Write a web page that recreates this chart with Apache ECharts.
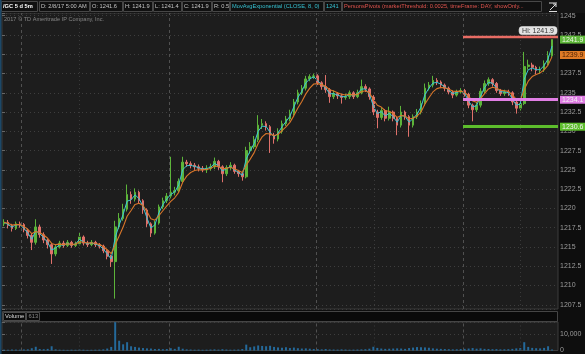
<!DOCTYPE html>
<html><head><meta charset="utf-8">
<script src="https://cdn.jsdelivr.net/npm/echarts@6/dist/echarts.min.js"></script>
<style>html,body{margin:0;padding:0;background:#0e0e0e;overflow:hidden}#c{width:585px;height:354px}</style>
</head><body><div id="c"></div>
<script>
// ---- data (one candle ≈ several 5-minute bars) ----
const opens = [
1218.0,1218.2,1217.8,1217.4,1218.0,1217.9,1217.2,1216.5,1215.6,1217.6,
1216.6,1215.9,1215.3,1214.1,1215.0,1215.5,1215.2,1215.6,1215.2,1215.4,
1216.3,1215.5,1215.3,1215.6,1215.3,1215.1,1214.5,1213.8,1213.1,1217.6,
1218.7,1219.9,1221.8,1221.2,1222.1,1221.0,1219.8,1218.0,1216.8,1218.1,
1220.2,1221.0,1221.6,1222.1,1222.3,1223.5,1226.0,1225.8,1225.6,1225.4,
1225.2,1225.0,1225.2,1225.4,1226.1,1225.4,1224.5,1225.3,1225.6,1224.8,
1224.5,1224.1,1227.5,1228.0,1228.9,1230.8,1231.0,1230.6,1229.5,1229.0,
1230.0,1231.0,1231.6,1232.3,1233.8,1235.0,1235.6,1236.8,1237.1,1237.2,
1236.3,1235.8,1235.4,1234.5,1234.9,1234.6,1234.4,1234.5,1235.0,1234.5,
1235.0,1235.8,1235.5,1234.5,1232.5,1231.8,1232.7,1231.7,1232.5,1231.7,
1230.8,1232.5,1231.9,1230.8,1231.9,1232.5,1233.6,1235.6,1236.0,1236.6,
1236.4,1236.0,1235.6,1235.1,1234.7,1235.1,1235.3,1234.8,1233.4,1232.8,
1233.4,1235.2,1236.2,1236.7,1236.2,1235.3,1234.9,1235.1,1235.0,1233.8,
1233.0,1233.6,1238.4,1238.6,1238.3,1237.9,1238.0,1238.8,1239.8];
const closes = [
1218.2,1217.8,1217.4,1218.0,1217.9,1217.2,1216.5,1215.6,1217.6,1216.6,
1215.9,1215.3,1214.1,1215.0,1215.5,1215.2,1215.6,1215.2,1215.4,1216.3,
1215.5,1215.3,1215.6,1215.3,1215.1,1214.5,1213.8,1213.1,1217.6,1218.7,
1219.9,1221.8,1221.2,1222.1,1221.0,1219.8,1218.0,1216.8,1218.1,1220.2,
1221.0,1221.6,1222.1,1222.3,1223.5,1226.0,1225.8,1225.6,1225.4,1225.2,
1225.0,1225.2,1225.4,1226.1,1225.4,1224.5,1225.3,1225.6,1224.8,1224.5,
1224.1,1227.5,1228.0,1228.9,1230.8,1231.0,1230.6,1229.5,1229.0,1230.0,
1231.0,1231.6,1232.3,1233.8,1235.0,1235.6,1236.8,1237.1,1237.2,1236.3,
1235.8,1235.4,1234.5,1234.9,1234.6,1234.4,1234.5,1235.0,1234.5,1235.0,
1235.8,1235.5,1234.5,1232.5,1231.8,1232.7,1231.7,1232.5,1231.7,1230.8,
1232.5,1231.9,1230.8,1231.9,1232.5,1233.6,1235.6,1236.0,1236.6,1236.4,
1236.0,1235.6,1235.1,1234.7,1235.1,1235.3,1234.8,1233.4,1232.8,1233.4,
1235.2,1236.2,1236.7,1236.2,1235.3,1234.9,1235.1,1235.0,1233.8,1233.0,
1233.6,1238.4,1238.6,1238.3,1237.9,1238.0,1238.8,1239.8,1241.9];
const highs = [
1218.6,1218.5,1218.0,1218.3,1218.3,1218.1,1217.4,1216.8,1218.6,1217.9,
1216.9,1216.1,1215.5,1215.3,1215.8,1215.8,1215.9,1215.8,1215.7,1216.9,
1216.5,1215.8,1215.9,1215.8,1215.5,1215.3,1214.7,1214.0,1218.4,1219.4,
1220.6,1223.1,1222.2,1222.6,1222.3,1221.2,1220.0,1218.2,1218.4,1220.5,
1221.4,1222.0,1226.7,1222.8,1223.9,1226.7,1226.3,1226.1,1225.9,1225.7,
1225.5,1225.6,1225.8,1226.6,1226.3,1225.6,1225.6,1226.0,1225.8,1225.0,
1224.7,1228.0,1228.6,1229.4,1232.1,1231.6,1231.3,1230.8,1229.8,1230.4,
1231.4,1232.0,1232.8,1234.2,1235.4,1236.0,1237.2,1237.4,1237.5,1237.4,
1236.5,1237.3,1235.6,1235.3,1235.1,1234.9,1234.9,1235.3,1235.2,1235.4,
1236.7,1236.1,1235.7,1234.7,1232.8,1233.1,1232.9,1233.2,1232.7,1231.9,
1233.3,1232.7,1232.1,1232.2,1232.9,1234.0,1236.2,1236.4,1237.2,1236.9,
1236.6,1236.2,1235.8,1235.3,1235.4,1235.6,1235.5,1235.0,1233.6,1233.8,
1235.6,1236.6,1237.0,1236.9,1236.4,1235.5,1235.4,1235.4,1235.2,1234.0,
1234.0,1240.3,1239.3,1238.9,1238.5,1238.4,1239.2,1240.4,1241.9];
const lows = [
1217.7,1217.4,1217.0,1217.2,1217.5,1216.9,1216.1,1214.6,1215.3,1216.2,
1215.5,1214.8,1212.8,1213.8,1214.8,1214.9,1215.0,1214.9,1215.0,1215.2,
1215.2,1215.0,1215.1,1215.0,1214.8,1214.2,1213.4,1212.4,1208.3,1217.3,
1218.4,1219.6,1220.6,1220.9,1220.6,1219.3,1217.6,1216.3,1216.6,1217.9,
1219.9,1220.7,1221.3,1221.7,1222.0,1223.3,1225.4,1225.2,1225.0,1224.8,
1224.7,1224.6,1224.9,1225.1,1225.0,1223.4,1224.2,1225.0,1224.5,1224.1,
1223.6,1223.9,1227.1,1227.7,1228.6,1230.3,1230.1,1227.2,1228.4,1228.7,
1229.7,1230.7,1231.3,1232.0,1233.5,1234.7,1235.3,1236.5,1236.8,1236.0,
1235.4,1235.0,1233.7,1234.2,1234.2,1233.6,1234.1,1234.2,1234.2,1234.3,
1234.8,1235.1,1234.1,1232.1,1230.4,1231.5,1231.3,1231.4,1231.3,1229.5,
1230.5,1231.5,1229.3,1230.5,1231.6,1232.2,1233.3,1235.3,1235.7,1236.0,
1235.6,1235.2,1234.8,1234.3,1234.5,1234.9,1234.5,1233.0,1231.3,1232.5,
1233.1,1234.9,1235.9,1235.8,1235.0,1234.6,1234.6,1234.6,1233.4,1232.3,
1232.7,1233.4,1238.0,1237.8,1237.4,1237.5,1237.7,1238.6,1239.6];
const volumes = [
500,450,600,550,500,650,700,1400,2300,900,
800,1000,2600,700,500,450,400,500,450,600,
500,400,450,500,550,700,1200,2200,17400,6000,
3800,5100,2600,2200,1800,1500,1300,1200,900,1000,
800,900,1400,1000,2300,1100,700,600,500,550,
450,500,600,700,550,800,600,500,550,600,
900,3600,2000,2500,3100,2800,2600,2900,2200,1900,
1700,2000,1500,1800,1400,1200,1300,1100,900,800,
700,900,650,600,550,700,600,500,550,600,
700,800,1100,2300,1600,1200,1000,1100,1200,1300,
1200,1000,1500,1800,2100,2000,1900,1700,1300,1100,
1000,900,800,700,750,900,1000,1200,1500,1100,
1300,1000,900,800,850,700,750,800,1000,1300,
1500,5100,2200,1600,1400,1300,1600,2600,613];
const slotCount = 140;                 // candles + one empty slot at the right edge
const categories = [];
for (let i = 0; i < slotCount; i++) categories.push(i < closes.length ? 'bar ' + (i + 1) : '');
const priceTicks = [1207.5,1210,1212.5,1215,1217.5,1220,1222.5,1225,1227.5,1230,1232.5,1235,1237.5,1240,1242.5,1245];
const volumeTicks = [0, 10000];
const pivotLevels = [1242.3, 1234.1, 1230.6];   // red R, pink pivot, green S
const pivotStart = 116.08;                       // session start (slot units)
const dayBreaks = [4.78, 42.05, 79.07, 116.08];
const hourBreaks = [19.39, 93.67, 130.43];
const lastPrice = 1241.9;
const slowEmaLast = 1239.9;
const fastPeriod = 2, slowPeriod = 5;

function ema(src, period) {
  const a = 2 / (period + 1); const out = []; let e = src[0];
  src.forEach(v => { e = e + a * (v - e); out.push(+e.toFixed(2)); });
  return out;
}
const emaFast = ema(closes, fastPeriod);
const emaSlow = ema(closes, slowPeriod);
const candleData = categories.map((_, i) => i < closes.length ? [opens[i], closes[i], lows[i], highs[i]] : '-');

const FONT = '"Liberation Sans", Arial, sans-serif';
const headerItems = [
  {t:'/GC 5 d 5m', x:1, w:36, c:'#ffffff', b:true},
  {t:'D: 2/8/17 5:00 AM', x:39, w:50},
  {t:'O: 1241.6', x:90, w:32},
  {t:'H: 1241.9', x:123, w:29},
  {t:'L: 1241.4', x:153, w:28},
  {t:'C: 1241.9', x:182, w:29},
  {t:'R: 0.5', x:212, w:17},
  {t:'MovAvgExponential (CLOSE, 8, 0)', x:230, w:93, c:'#37c2d2'},
  {t:'1241', x:324, w:17, c:'#37c2d2'},
  {t:'PersonsPivots (marketThreshold: 0.0025, timeFrame: DAY, showOnly...', x:342, w:199, c:'#e0544e'}
];
const graphics = [
  {type:'rect', shape:{x:0,y:0,width:585,height:13}, style:{fill:'#151515'}, z:0},
  {type:'rect', shape:{x:0,y:0,width:1.5,height:354}, style:{fill:'#1c4868'}, z:10},
  {type:'rect', shape:{x:2.5,y:311.5,width:555,height:10}, style:{fill:'#0a0a0a', stroke:'#454545', lineWidth:1}, z:5},
  {type:'rect', shape:{x:3.5,y:312.5,width:22,height:8}, style:{fill:'#0a0a0a', stroke:'#4a4a4a', lineWidth:1}, z:6},
  {type:'text', x:5, y:316.8, style:{text:'Volume', fill:'#dddddd', font:'5.8px ' + FONT, verticalAlign:'middle'}, z:7},
  {type:'rect', shape:{x:26.5,y:312.5,width:13,height:8}, style:{fill:'#0a0a0a', stroke:'#4a4a4a', lineWidth:1}, z:6},
  {type:'text', x:28.5, y:316.8, style:{text:'613', fill:'#8a8a8a', font:'5.8px ' + FONT, verticalAlign:'middle'}, z:7},
  {type:'text', x:4, y:19.5, style:{text:'2017 © TD Ameritrade IP Company, Inc.', fill:'#858585', font:'5.6px ' + FONT, verticalAlign:'middle'}, z:7},
  {type:'polyline', shape:{points:[[549,3],[557,3]]}, style:{stroke:'#dddddd', lineWidth:1}, z:7},
  {type:'polyline', shape:{points:[[550,10],[556,4]]}, style:{stroke:'#dddddd', lineWidth:1}, z:7},
  {type:'polyline', shape:{points:[[553,4],[556,4],[556,7]]}, style:{stroke:'#dddddd', lineWidth:1, fill:null}, z:7},
  {type:'polyline', shape:{points:[[549,11.5],[557,11.5]]}, style:{stroke:'#dddddd', lineWidth:1}, z:7}
];
headerItems.forEach(h => {
  graphics.push({type:'rect', shape:{x:h.x + 0.5, y:1.5, width:h.w, height:10}, style:{fill:'#101010', stroke:'#474747', lineWidth:1}, z:5});
  graphics.push({type:'text', x:h.x + 2, y:6.8, style:{text:h.t, fill:h.c || '#c2c2c2', font:(h.b ? 'bold ' : '') + '5.7px ' + FONT, verticalAlign:'middle'}, z:6});
});

function tagLabel(bg, fg, value) {
  return {show:true, position:'end', distance:2, backgroundColor:bg, color:fg, fontSize:7, fontFamily:FONT,
          padding:[1,2,0,2], formatter: value.toFixed(1)};
}
const vLine = (v, day) => ({xAxis:v, lineStyle:{color: day ? '#505050' : '#3a3a3a', type: day ? [3,3] : [1,3], width:1}});
const pivotColors = ['#e86c64', '#e07ee4', '#5dbd2c'];
const pivotLines = pivotLevels.map((v, k) => [
  {coord:[pivotStart, v], lineStyle:{color:pivotColors[k], width: k === 0 ? 2.3 : 3, type:'solid'},
   label: k === 0 ? {show:false} : tagLabel(pivotColors[k], '#f4f4f4', v)},
  {coord:[slotCount, v]}
]);
const tagLines = [
  [{coord:[slotCount - 1, lastPrice], lineStyle:{color:'rgba(0,0,0,0)', width:0}, label:tagLabel('#5fb83a', '#eef8e6', lastPrice)}, {coord:[slotCount, lastPrice]}],
  [{coord:[slotCount - 1, slowEmaLast], lineStyle:{color:'rgba(0,0,0,0)', width:0}, label:tagLabel('#e07b26', '#4a1e00', slowEmaLast)}, {coord:[slotCount, slowEmaLast]}]
];

const chart = echarts.init(document.getElementById('c'), null, {renderer:'canvas'});
chart.setOption({
  animation:false,
  backgroundColor:'#0e0e0e',
  textStyle:{fontFamily:FONT},
  graphic:{elements:graphics},
  grid:[
    {left:2, right:27, top:13, height:296, show:true, backgroundColor:'#1d1d1d', borderColor:'#3d3d3d', borderWidth:1},
    {left:2, right:27, top:322, height:32, show:true, backgroundColor:'#1d1d1d', borderColor:'#3d3d3d', borderWidth:1}
  ],
  xAxis:[
    {type:'category', gridIndex:0, data:categories, show:false},
    {type:'value', gridIndex:0, min:0, max:slotCount, show:false},
    {type:'category', gridIndex:1, data:categories, show:false},
    {type:'value', gridIndex:1, min:0, max:slotCount, show:false}
  ],
  yAxis:[
    {type:'value', gridIndex:0, position:'right', min:1206.955, max:1245.35, minInterval:2.5, maxInterval:2.5, splitNumber:15,
     axisLine:{show:false}, axisTick:{show:true, length:3, lineStyle:{color:'#666'}},
     axisLabel:{color:'#9c9c9c', fontSize:7, margin:2, hideOverlap:false,
       formatter: v => priceTicks.some(t => Math.abs(t - v) < 1e-6) ? String(v) : ''},
     splitLine:{show:true, lineStyle:{color:'#3e3e3e', type:[1,3], width:1}}},
    {type:'value', gridIndex:1, position:'right', min:0, max:17500, minInterval:10000, maxInterval:10000,
     axisLine:{show:false}, axisTick:{show:true, length:3, lineStyle:{color:'#666'}},
     axisLabel:{color:'#9c9c9c', fontSize:7, margin:2,
       formatter: v => volumeTicks.includes(v) ? v.toLocaleString('en-US') : ''},
     splitLine:{show:true, lineStyle:{color:'#3e3e3e', type:[1,3], width:1}}}
  ],
  series:[
    {type:'line', xAxisIndex:1, yAxisIndex:0, data:[[0,1230]], symbol:'none', lineStyle:{opacity:0}, silent:true,
     markLine:{silent:true, symbol:['none','none'], animation:false, label:{show:false},
       data:[...dayBreaks.map(v => vLine(v, true)), ...hourBreaks.map(v => vLine(v, false))]}},
    {type:'line', xAxisIndex:3, yAxisIndex:1, data:[[0,0]], symbol:'none', lineStyle:{opacity:0}, silent:true,
     markLine:{silent:true, symbol:['none','none'], animation:false, label:{show:false},
       data:[...dayBreaks.map(v => vLine(v, true)), ...hourBreaks.map(v => vLine(v, false))]}},
    {type:'candlestick', xAxisIndex:0, yAxisIndex:0, data:candleData, barWidth:'55%', z:3,
     itemStyle:{color:'#5cb43a', color0:'#e0716b', borderColor:'#5cb43a', borderColor0:'#e0716b', borderWidth:1},
     markPoint:{silent:true, symbol:'rect', symbolSize:[1,1], itemStyle:{color:'rgba(0,0,0,0)'},
       data:[{type:'max', valueDim:'highest'}],
       label:{show:true, position:'inside', offset:[-14,-9],
         formatter: p => 'Hi: ' + (p.value != null ? Number(p.value).toFixed(1) : ''),
         backgroundColor:'#e4e4e4', color:'#333', fontSize:7, fontFamily:FONT, padding:[1,3,0,3], borderRadius:3,
         borderColor:'#9a9a9a', borderWidth:0.5}}},
    {type:'line', xAxisIndex:0, yAxisIndex:0, data:emaFast, symbol:'none', z:4, silent:true,
     lineStyle:{color:'#3cc6d6', width:1}},
    {type:'line', xAxisIndex:0, yAxisIndex:0, data:emaSlow, symbol:'none', z:4, silent:true,
     lineStyle:{color:'#d8762a', width:1.1}},
    {type:'line', xAxisIndex:1, yAxisIndex:0, data:[[0,1230]], symbol:'none', lineStyle:{opacity:0}, z:6, silent:true,
     markLine:{silent:true, symbol:['none','none'], animation:false, data:[...pivotLines, ...tagLines]}},
    {type:'bar', xAxisIndex:2, yAxisIndex:1, data:volumes, barWidth:'50%', itemStyle:{color:'#24699a'}, silent:true}
  ]
});
</script>
</body></html>
